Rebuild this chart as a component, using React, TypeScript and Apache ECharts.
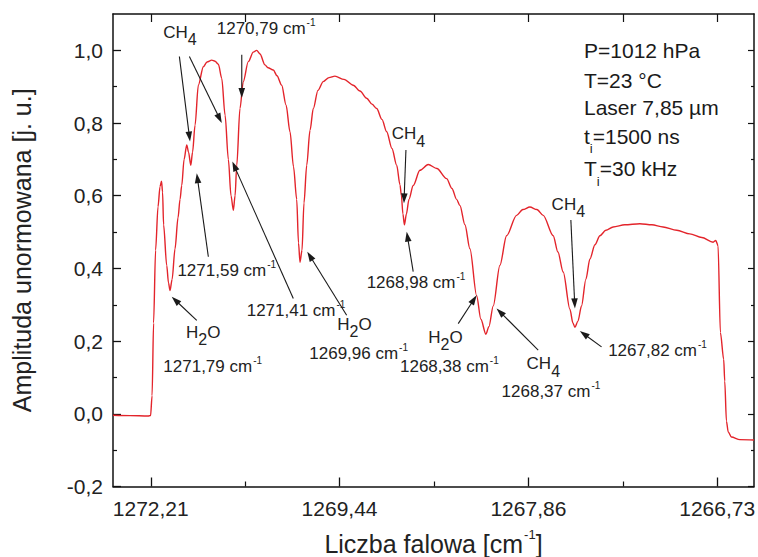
import React, { useEffect, useRef } from 'react';
import * as echarts from 'echarts';

// scan position (arbitrary tuning units; wavenumber labels below are placed at 0, 200, 400, 600)
const scanPos = [
  -40, -21.9, -2.9, -0.2, 1.4, 3.0, 5.1, 7.7, 9.8, 11.4, 12.5, 13.6, 16.9, 18.8, 20.4, 22.6, 25.7, 28.9, 31.0,
  32.8, 35.3, 38.1, 40.0, 42.4, 44.3, 46.9, 50.4, 55.7, 59.6, 64.6, 68.1, 71.6, 75.2, 78.7, 82.2, 85.0, 87.5, 89.3, 91.1,
  94.5, 98.0, 103.3, 108.6, 112.2, 115.7, 121.0, 124.2, 129.8, 133.7, 138.7, 143.3, 147.5, 151.2, 154.6, 156.5, 158.1, 160.2, 162.3, 165.2,
  168.7, 172.2, 177.1, 182.7, 188.8, 195.1, 204.7, 214.5, 221.6, 228.7, 234.3, 239.3, 244.9, 249.9, 255.5, 260.5, 264.0, 265.5, 267.1, 268.7,
  270.8, 273.5, 278.0, 285.1, 293.9, 303.1, 313.4, 319.0, 324.0, 327.5, 332.8, 338.1, 345.2, 349.7, 355.0, 358.2, 362.8, 369.8, 376.9, 387.5,
  394.2, 401.6, 409.0, 415.7, 426.3, 431.3, 436.9, 444.0, 447.2, 449.3, 452.5, 456.3, 460.9, 465.2, 470.5, 475.8, 482.1, 489.8, 502.2, 518.1,
  530.8, 542.7, 557.2, 571.0, 583.7, 595.7, 598.5, 600.9, 603.4, 606.9, 608.0, 609.8, 611.7, 615.1, 624.0, 639
];

const amplitude = [
  -0.004, -0.005, -0.006, -0.005, 0.05, 0.25, 0.45, 0.57, 0.625, 0.64, 0.61, 0.52, 0.408, 0.36, 0.339, 0.37, 0.454, 0.54, 0.59,
  0.628, 0.70, 0.74, 0.72, 0.684, 0.72, 0.794, 0.904, 0.955, 0.968, 0.973, 0.97, 0.962, 0.923, 0.822, 0.70, 0.60, 0.56, 0.60, 0.684,
  0.84, 0.914, 0.969, 0.995, 1.0, 0.99, 0.96, 0.952, 0.946, 0.93, 0.904, 0.85, 0.776, 0.68, 0.59, 0.47, 0.417, 0.45, 0.58, 0.684,
  0.78, 0.84, 0.89, 0.914, 0.925, 0.929, 0.92, 0.904, 0.888, 0.868, 0.852, 0.84, 0.81, 0.776, 0.73, 0.684, 0.63, 0.60, 0.55, 0.52,
  0.55, 0.59, 0.628, 0.67, 0.686, 0.675, 0.647, 0.62, 0.59, 0.573, 0.52, 0.454, 0.325, 0.26, 0.219, 0.24, 0.297, 0.408, 0.49, 0.546,
  0.562, 0.569, 0.562, 0.546, 0.49, 0.445, 0.39, 0.288, 0.25, 0.238, 0.255, 0.297, 0.37, 0.426, 0.465, 0.49, 0.505, 0.514, 0.52, 0.523,
  0.52, 0.514, 0.505, 0.495, 0.485, 0.472, 0.477, 0.463, 0.224, 0.15, 0.09, -0.02, -0.05, -0.064, -0.071, -0.072
];

const majorTickPos = [0, 200, 400, 600];
const minorTickPos = [100, 300, 500];
const topTickPos = [0, 100, 200, 300, 400, 500, 600];
const wavenumberLabels = ['1272,21', '1269,44', '1267,86', '1266,73'];
const yMajorTicks = [-0.2, 0, 0.2, 0.4, 0.6, 0.8, 1.0];
const yMinorTicks = [-0.1, 0.1, 0.3, 0.5, 0.7, 0.9];

// annotation arrows (tail -> head) in data coordinates
const arrowTailX = [30.3, 40.9, 96.4, 270.3, 278.0, 445.0, 477.5, 48.7, 61.0, 151.0, 207.5, 325.7, 410.4];
const arrowTailY = [0.983, 0.983, 0.988, 0.726, 0.391, 0.533, 0.184, 0.257, 0.432, 0.317, 0.271, 0.248, 0.175];
const arrowHeadX = [41.6, 75.2, 96.4, 268.2, 271.1, 449.3, 454.5, 22.2, 48.7, 86.4, 165.8, 345.2, 366.3];
const arrowHeadY = [0.749, 0.800, 0.869, 0.579, 0.501, 0.290, 0.228, 0.322, 0.662, 0.694, 0.446, 0.326, 0.290];

// annotation texts (left edge, text middle) in data coordinates
const noteText = [
  '{n|CH}{s|4}', '{n|1270,79 cm}{p|-1}', '{n|CH}{s|4}', '{n|1268,98 cm}{p|-1}',
  '{n|CH}{s|4}', '{n|1267,82 cm}{p|-1}', '{n|H}{s|2}{n|O}', '{n|1271,79 cm}{p|-1}',
  '{n|1271,59 cm}{p|-1}', '{n|1271,41 cm}{p|-1}', '{n|H}{s|2}{n|O}', '{n|1269,96 cm}{p|-1}',
  '{n|H}{s|2}{n|O}', '{n|1268,38 cm}{p|-1}', '{n|CH}{s|4}', '{n|1268,37 cm}{p|-1}'
];
const noteX = [13.3, 69.9, 255.2, 228.7, 424.6, 484.5, 37.4, 13.3, 28.2, 101.6, 197.6, 167.9, 293.9, 264.0, 398.1, 371.6];
const noteY = [1.050, 1.059, 0.770, 0.360, 0.577, 0.175, 0.225, 0.129, 0.395, 0.285, 0.246, 0.165, 0.211, 0.131, 0.138, 0.062];

const infoLines = ['{n|P=1012 hPa}', '{n|T=23 °C}', '{n|Laser 7,85 µm}', '{n|t}{s|i}{n|=1500 ns}', '{n|T}{s|i}{n|=30 kHz}'];

const FONT = "'Liberation Sans', Arial, Helvetica, sans-serif";
const AXIS_COLOR = '#111';
const TEXT_COLOR = '#222';

const noteRich = {
  n: { fontSize: 17, fontFamily: FONT, color: TEXT_COLOR, fill: TEXT_COLOR, verticalAlign: 'top', padding: [5.5, 0, 0, 0] },
  s: { fontSize: 16, fontFamily: FONT, color: TEXT_COLOR, fill: TEXT_COLOR, verticalAlign: 'top', padding: [13.5, 0, 0, 0] },
  p: { fontSize: 10, fontFamily: FONT, color: TEXT_COLOR, fill: TEXT_COLOR, verticalAlign: 'top', padding: [3, 0, 0, 1] }
};

const infoRich = {
  n: { fontSize: 21, fontFamily: FONT, color: '#1a1a1a', fill: '#1a1a1a', verticalAlign: 'top', padding: [6.5, 0, 0, 0] },
  s: { fontSize: 13, fontFamily: FONT, color: '#1a1a1a', fill: '#1a1a1a', verticalAlign: 'top', padding: [23, 0, 0, 0] }
};

const fmtY = (v: number) => v.toFixed(1).replace('.', ',');

function buildOption(): any {
  const lineData = scanPos.map((x, i) => [x, amplitude[i]]);
  const arrowData = arrowTailX.map((x, i) => [x, arrowTailY[i], arrowHeadX[i], arrowHeadY[i]]);
  const noteData = noteX.map((x, i) => [x, noteY[i], i]);
  const infoY = [50.5, 80, 107.5, 136, 168.5];

  const hiddenLabel = { show: false };
  return {
    animation: false,
    backgroundColor: '#fff',
    grid: { left: 113, right: 4, top: 14, bottom: 70.5, containLabel: false, outerBoundsMode: 'none' },
    xAxis: [
      {
        type: 'value', min: -40, max: 639, position: 'bottom',
        axisLine: { show: true, onZero: false, lineStyle: { color: AXIS_COLOR, width: 1.5 } },
        axisTick: { show: true, inside: true, length: 9, customValues: majorTickPos, lineStyle: { color: AXIS_COLOR, width: 1.3 } },
        axisLabel: {
          show: true, customValues: majorTickPos, margin: 11, fontSize: 21, fontFamily: FONT, color: TEXT_COLOR,
          formatter: (v: number) => { const k = majorTickPos.indexOf(Math.round(v)); return k >= 0 ? wavenumberLabels[k] : ''; }
        },
        splitLine: { show: false },
        name: '{n|Liczba falowa [cm}{p|-1}{n|]}',
        nameLocation: 'middle', nameGap: 41.5,
        nameTextStyle: {
          fontSize: 25, fontFamily: FONT, color: TEXT_COLOR, lineHeight: 32,
          rich: {
            n: { fontSize: 25, fontFamily: FONT, color: TEXT_COLOR, verticalAlign: 'top', padding: [3.5, 0, 0, 0] },
            p: { fontSize: 13, fontFamily: FONT, color: TEXT_COLOR, verticalAlign: 'top', padding: [0, 0, 0, 1] }
          }
        }
      },
      {
        type: 'value', min: -40, max: 639, position: 'bottom', gridIndex: 0,
        axisLine: { show: false, onZero: false },
        axisTick: { show: true, inside: true, length: 5, customValues: minorTickPos, lineStyle: { color: AXIS_COLOR, width: 1.2 } },
        axisLabel: hiddenLabel, splitLine: { show: false }
      },
      {
        type: 'value', min: -40, max: 639, position: 'top', gridIndex: 0,
        axisLine: { show: true, onZero: false, lineStyle: { color: AXIS_COLOR, width: 1.5 } },
        axisTick: { show: true, inside: true, length: 8, customValues: topTickPos, lineStyle: { color: AXIS_COLOR, width: 1.2 } },
        axisLabel: hiddenLabel, splitLine: { show: false }
      }
    ],
    yAxis: [
      {
        type: 'value', min: -0.2, max: 1.1, position: 'left',
        axisLine: { show: true, onZero: false, lineStyle: { color: AXIS_COLOR, width: 1.5 } },
        axisTick: { show: true, inside: true, length: 8, customValues: yMajorTicks, lineStyle: { color: AXIS_COLOR, width: 1.3 } },
        axisLabel: { show: true, customValues: yMajorTicks, margin: 10, fontSize: 21, fontFamily: FONT, color: TEXT_COLOR, formatter: fmtY },
        splitLine: { show: false },
        name: 'Amplituda unormowana [j. u.]', nameLocation: 'middle', nameGap: 79,
        nameTextStyle: { fontSize: 25, fontFamily: FONT, color: TEXT_COLOR }
      },
      {
        type: 'value', min: -0.2, max: 1.1, position: 'left', gridIndex: 0,
        axisLine: { show: false, onZero: false },
        axisTick: { show: true, inside: true, length: 4, customValues: yMinorTicks, lineStyle: { color: AXIS_COLOR, width: 1.2 } },
        axisLabel: hiddenLabel, splitLine: { show: false }
      },
      {
        type: 'value', min: -0.2, max: 1.1, position: 'right', gridIndex: 0,
        axisLine: { show: true, onZero: false, lineStyle: { color: AXIS_COLOR, width: 1.5 } },
        axisTick: { show: true, inside: true, length: 6, customValues: yMajorTicks, lineStyle: { color: AXIS_COLOR, width: 1.2 } },
        axisLabel: hiddenLabel, splitLine: { show: false }
      },
      {
        type: 'value', min: -0.2, max: 1.1, position: 'right', gridIndex: 0,
        axisLine: { show: false, onZero: false },
        axisTick: { show: true, inside: true, length: 3, customValues: yMinorTicks, lineStyle: { color: AXIS_COLOR, width: 1.2 } },
        axisLabel: hiddenLabel, splitLine: { show: false }
      }
    ],
    series: [
      {
        type: 'line', xAxisIndex: 0, yAxisIndex: 0, data: lineData,
        showSymbol: false, symbol: 'none', smooth: 0.3, smoothMonotone: 'x',
        lineStyle: { color: '#e3242b', width: 1.4 }, z: 3
      },
      {
        type: 'custom', xAxisIndex: 0, yAxisIndex: 0, data: arrowData, encode: { x: [0, 2], y: [1, 3] }, z: 4,
        renderItem: (params: any, api: any) => {
          const t = api.coord([api.value(0), api.value(1)]);
          const h = api.coord([api.value(2), api.value(3)]);
          const dx = h[0] - t[0];
          const dy = h[1] - t[1];
          const len = Math.hypot(dx, dy) || 1;
          const ux = dx / len;
          const uy = dy / len;
          const hl = 10;
          const hw = 3.3;
          const bx = h[0] - ux * hl;
          const by = h[1] - uy * hl;
          return {
            type: 'group',
            children: [
              { type: 'line', shape: { x1: t[0], y1: t[1], x2: bx + ux * 2, y2: by + uy * 2 }, style: { stroke: '#1a1a1a', lineWidth: 1.1 } },
              { type: 'polygon', shape: { points: [[h[0], h[1]], [bx - uy * hw, by + ux * hw], [bx + uy * hw, by - ux * hw]] }, style: { fill: '#1a1a1a' } }
            ]
          };
        }
      },
      {
        type: 'custom', xAxisIndex: 0, yAxisIndex: 0, data: noteData, encode: { x: 0, y: 1 }, z: 5,
        renderItem: (params: any, api: any) => {
          const p = api.coord([api.value(0), api.value(1)]);
          const idx = api.value(2);
          return {
            type: 'text', x: p[0], y: p[1],
            style: {
              text: noteText[idx], rich: noteRich, fill: TEXT_COLOR, fontSize: 17, fontFamily: FONT,
              align: 'left', verticalAlign: 'middle', lineHeight: 28
            }
          };
        }
      }
    ],
    graphic: infoLines.map((t, i) => ({
      type: 'text', x: 584, y: infoY[i], z: 10,
      style: { text: t, rich: infoRich, fill: '#1a1a1a', fontSize: 21, fontFamily: FONT, align: 'left', verticalAlign: 'middle', lineHeight: 34 }
    }))
  };
}

export default function App() {
  const ref = useRef<HTMLDivElement>(null);
  useEffect(() => {
    if (!ref.current) return;
    const chart = echarts.init(ref.current, null, { renderer: 'svg' });
    chart.setOption(buildOption());
    return () => chart.dispose();
  }, []);
  return <div ref={ref} style={{ position: 'fixed', left: 0, top: 0, width: 758, height: 557, background: '#fff' }} />;
}
